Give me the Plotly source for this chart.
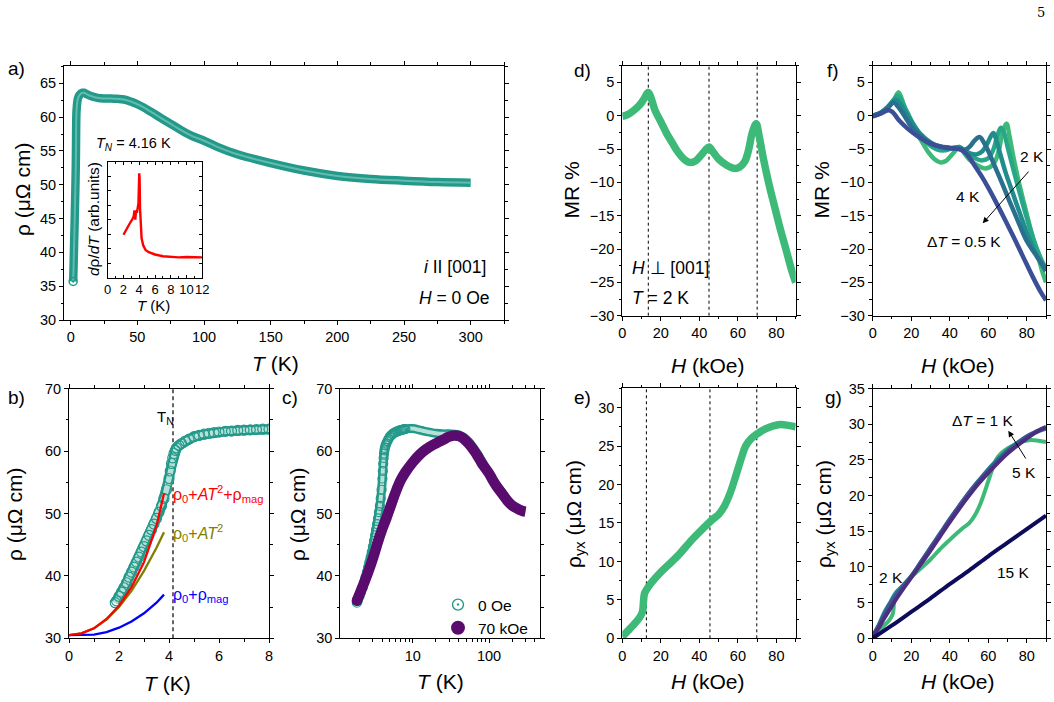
import numpy as np
import plotly.graph_objects as go

# ---------------- data ----------------
# rho(T) at H = 0 (panels a, b, c)
T0 = [1.85, 1.9, 2.0, 2.1, 2.2, 2.3, 2.4, 2.5, 2.6, 2.7, 2.8, 2.9, 3.0, 3.1, 3.2, 3.3, 3.4, 3.5,
      3.6, 3.7, 3.8, 3.9, 4.0, 4.05, 4.1, 4.15, 4.2, 4.25, 4.3, 4.4, 4.5, 4.65, 4.8, 5.0, 5.2,
      5.4, 5.6, 5.8, 6.0, 6.25, 6.5, 6.75, 7.0, 7.25, 7.5, 7.75, 8.0, 9, 10, 12, 14, 17, 20, 25,
      30, 35, 40, 45, 50, 55, 60, 65, 70, 75, 80, 90, 100, 110, 125, 150, 175, 200, 225, 250,
      275, 300]
rho0 = [35.7, 36.0, 36.7, 37.4, 38.1, 38.9, 39.8, 40.6, 41.4, 42.2, 43.0, 43.8, 44.7, 45.6, 46.5,
        47.4, 48.3, 49.2, 50.2, 51.2, 52.4, 53.8, 55.6, 56.8, 58.0, 58.9, 59.6, 60.1, 60.5, 60.9,
        61.2, 61.6, 61.9, 62.3, 62.5, 62.7, 62.85, 62.95, 63.05, 63.15, 63.2, 63.3, 63.35, 63.4,
        63.45, 63.5, 63.5, 63.6, 63.6, 63.4, 63.2, 63.0, 62.85, 62.75, 62.75, 62.7, 62.6, 62.3,
        61.9, 61.4, 60.8, 60.2, 59.6, 59.0, 58.4, 57.3, 56.5, 55.6, 54.5, 53.2, 52.1, 51.3, 50.85,
        50.6, 50.4, 50.3]
# rho(T) at H = 70 kOe (panel c)
T70 = [1.85, 2.2, 2.6, 3.0, 3.5, 4.0, 4.5, 5.0, 6.0, 7.0, 8.0, 10, 12.5, 15, 20, 25, 30, 35, 40,
       45, 50, 55, 60, 65, 70, 75, 80, 90, 100, 110, 125, 150, 175, 200, 225, 250, 275, 300]
rho70 = [36.0, 38.3, 40.6, 42.8, 45.5, 47.6, 49.2, 50.8, 53.5, 55.4, 56.6, 58.2, 59.5, 60.3, 61.2,
         61.8, 62.3, 62.5, 62.4, 62.1, 61.6, 61.1, 60.5, 59.9, 59.3, 58.7, 58.1, 57.2, 56.4, 55.5,
         54.4, 53.1, 52.0, 51.3, 50.9, 50.6, 50.4, 50.3]
# inset: d rho / dT (arb. units)
T_inset = [2.0, 2.3, 2.6, 2.9, 3.1, 3.3, 3.4, 3.5, 3.6, 3.7, 3.8, 3.9, 4.0, 4.05, 4.1, 4.2, 4.3,
           4.5, 4.8, 5.2, 6, 7, 8, 9, 10, 11, 12]
drho_inset = [0.37, 0.41, 0.45, 0.48, 0.50, 0.53, 0.58, 0.50, 0.58, 0.56, 0.60, 0.64, 0.90, 0.85,
              0.60, 0.42, 0.34, 0.28, 0.24, 0.22, 0.20, 0.185, 0.18, 0.175, 0.178, 0.175, 0.175]
# panel b: fits
T_fit = [0, 0.5, 1, 1.5, 2, 2.5, 3, 3.5, 3.8]
fit_full = [30.5, 30.8, 31.6, 33.1, 35.2, 38.2, 42.2, 48.0, 53.2]
fit_AT2 = [30.5, 30.8, 31.6, 33.0, 35.0, 37.6, 40.8, 44.5, 47.0]
fit_mag = [30.5, 30.5, 30.6, 31.0, 31.7, 32.7, 34.0, 35.7, 37.0]
TN = 4.16
# panel d: MR at 2 K
H_d = [0, 3, 6, 9, 11, 13.5, 15, 17, 20, 23, 26, 29, 32, 35, 38, 41, 43, 45, 47, 50, 54, 58, 61,
       63.5, 65.5, 67.5, 69.5, 71, 73, 76, 79, 82, 85, 88, 90]
MR_d = [-0.1, 0.2, 0.8, 1.6, 2.4, 3.5, 2.6, 0.8, -0.9, -2.65, -4.1, -5.5, -6.5, -7.0, -6.8, -5.9,
        -5.2, -4.7, -5.4, -6.5, -7.4, -7.9, -7.7, -6.9, -5.2, -2.5, -1.2, -3.0, -6.1, -10.1, -13.6,
        -17.0, -20.1, -23.3, -25.0]
MR_lines = [13.5, 45, 70]
# panel e: Hall resistivity at 2 K
H_e = [0, 3, 6, 9, 10.5, 11, 11.5, 12.5, 15, 20, 25, 30, 35, 40, 44, 47, 50, 53, 56, 59, 62, 64,
       67, 70, 74, 78, 82, 86, 90]
rho_e = [0.2, 1.0, 1.8, 2.7, 3.5, 4.8, 5.8, 6.3, 7.2, 8.6, 9.8, 11.05, 12.5, 13.8, 14.8, 15.5,
         16.1, 17.2, 18.9, 21.2, 23.6, 25.0, 26.0, 26.6, 27.2, 27.6, 27.8, 27.7, 27.5]
Hall_lines = [12.5, 45.5, 69.8]
# panel f: MR at 2.5, 3, 3.5, 4 K
H_f25 = [0, 4, 8, 11, 13, 15, 18, 21, 25, 29, 33, 37, 41, 45, 48, 51, 54, 57, 60, 62.5, 64.5,
         66.5, 68, 70, 73, 76, 80, 84, 87, 90]
MR_f25 = [0, 0.4, 1.4, 2.4, 3.0, 2.2, 0.5, -1.2, -3.0, -4.3, -5.0, -5.2, -4.9, -4.7, -5.3, -6.0,
          -6.5, -6.7, -6.4, -5.2, -3.3, -1.8, -2.4, -4.6, -8.0, -11.2, -15.3, -19.0, -21.2, -23.0]
H_f3 = [0, 4, 8, 12, 14, 17, 20, 25, 30, 35, 40, 45, 48, 51, 54, 57, 59.5, 61.5, 62.7, 64, 66,
        69, 72, 76, 80, 84, 87, 90]
MR_f3 = [0, 0.4, 1.3, 2.4, 1.9, 0.5, -0.9, -2.8, -4.0, -4.7, -4.9, -4.8, -5.3, -5.7, -5.8, -5.3,
         -4.2, -3.0, -2.6, -3.5, -5.5, -8.5, -11.0, -14.3, -17.5, -20.3, -21.8, -22.8]
H_f35 = [0, 4, 8, 11, 13, 16, 20, 25, 30, 35, 40, 45, 48, 50.5, 53, 55.5, 57.5, 60, 63, 67, 71,
         75, 80, 85, 90]
MR_f35 = [0, 0.4, 1.2, 2.0, 1.4, 0.2, -1.6, -3.1, -4.1, -4.6, -4.8, -5.0, -5.1, -4.6, -3.7, -3.2,
          -3.9, -5.3, -7.3, -10.0, -12.8, -15.5, -18.8, -21.0, -23.3]
H_f4 = [0, 4, 8, 10, 14, 18, 21, 25, 28, 32, 35, 38, 42, 45, 47, 50, 53, 57, 60, 63, 68, 73, 78,
        83, 87, 90]
MR_f4 = [-0.1, 0.3, 0.8, 0.6, -0.8, -1.9, -2.6, -3.4, -3.9, -4.4, -4.6, -4.8, -4.9, -5.0, -5.3,
         -6.2, -7.5, -9.3, -10.8, -12.4, -15.2, -18.1, -21.1, -24.1, -26.3, -27.7]
# panel g: Hall resistivity at 3, 4, 5, 15 K
H_g = [0, 3, 6, 9, 12, 15, 20, 25, 30, 35, 40, 45, 50, 55, 60, 65, 70, 75, 80, 85, 90]
rho_g3 = [0.3, 1.8, 3.6, 5.0, 6.4, 7.2, 8.7, 10.6, 12.6, 14.6, 16.6, 18.5, 20.4, 22.1, 23.7, 25.1,
          26.4, 27.4, 28.3, 28.9, 29.4]
rho_g4 = [0.3, 1.7, 3.3, 4.8, 6.0, 7.0, 8.7, 10.7, 12.7, 14.7, 16.7, 18.6, 20.4, 22.0, 23.5, 24.9,
          26.2, 27.3, 28.3, 29.0, 29.6]
rho_g5 = [0.2, 1.4, 2.8, 4.1, 5.4, 6.6, 8.5, 10.4, 12.3, 14.3, 16.3, 18.2, 20.0, 21.7, 23.2, 24.6,
          25.9, 27.0, 28.0, 28.9, 29.6]
H_g15 = [0, 10, 20, 30, 40, 50, 60, 70, 80, 90]
rho_g15 = [0, 1.8, 3.7, 5.6, 7.6, 9.5, 11.5, 13.4, 15.3, 17.2]

# ---------------- styling ----------------
W, H = 1054, 702
FONT = "Liberation Sans, Arial, Helvetica, sans-serif"
TEAL = "#23998a"
TEAL_LIGHT = "#62bcae"
TEAL_PALE = "#b7e0d8"
PURPLE = "#5a0c6e"
GREEN = "#3dba78"
C25, C3, C35, C4 = "#28a688", "#1f8d8c", "#2a6f8e", "#3b4f96"
G3, G4, G5, G15 = "#22898e", "#3a5796", "#4c2d80", "#0d0b5c"


def px(x):
    return x / W


def py(y):
    return 1 - y / H


boxes = {  # left, right, top, bottom in pixels
    1: (64, 504, 65.7, 320),          # a
    2: (107.7, 202.3, 161.7, 277.7),  # inset
    3: (69, 269, 388.6, 638.3),       # b
    4: (340.3, 540, 388.6, 638.3),    # c
    5: (622.3, 795.7, 65.7, 315.7),   # d
    6: (622.3, 795.7, 388, 638.3),    # e
    7: (872.7, 1046, 65.7, 315.7),    # f
    8: (872.7, 1046, 388.6, 638.3),   # g
}

fig = go.Figure()


def xa(i):
    return "x" if i == 1 else f"x{i}"


def ya(i):
    return "y" if i == 1 else f"y{i}"


def line(x, y, i, color, width, shape="linear"):
    fig.add_trace(go.Scatter(x=x, y=y, xaxis=xa(i), yaxis=ya(i), mode="lines",
                             line=dict(color=color, width=width, shape=shape),
                             showlegend=False, hoverinfo="skip"))


def tube(x, y, i, w=8, wi=2.0, shape="linear", inner=TEAL_LIGHT):
    line(x, y, i, TEAL, w, shape)
    line(x, y, i, inner, wi, shape)


def rings(x, y, i, size):
    fig.add_trace(go.Scatter(x=x, y=y, xaxis=xa(i), yaxis=ya(i), mode="markers",
                             marker=dict(symbol="circle-open", size=size, color=TEAL,
                                         line=dict(width=1.2, color=TEAL)),
                             showlegend=False, hoverinfo="skip"))


T0a = np.array(T0)
rho0a = np.array(rho0)

# panel a
tube(T0, rho0, 1, 8.5, 2.0, "spline")
fig.add_trace(go.Scatter(x=T0[:1], y=rho0[:1], xaxis="x", yaxis="y", mode="markers",
                         marker=dict(symbol="circle-open-dot", size=8, color=TEAL,
                                     line=dict(width=1.5, color=TEAL)),
                         showlegend=False, hoverinfo="skip"))
# inset
line(T_inset, drho_inset, 2, "#ff0000", 2.4)

# panel b
mb = T0a <= 8.5
tube(T0a[mb], rho0a[mb], 3, 10, 5.5, "linear", TEAL_PALE)
rings(T0a[mb], rho0a[mb], 3, 10)
line(T_fit, fit_AT2, 3, "#808000", 2.3)
line(T_fit, fit_mag, 3, "#0000ff", 2.3)
line(T_fit, fit_full, 3, "#ff0000", 2.3)

# panel c
tube(T0, rho0, 4, 9, 4, "spline", TEAL_PALE)
mc = T0a <= 8
rings(T0a[mc], rho0a[mc], 4, 9)
line(T70, rho70, 4, PURPLE, 10.5, "spline")
fig.add_trace(go.Scatter(x=T70[:1], y=rho70[:1], xaxis="x4", yaxis="y4", mode="markers",
                         marker=dict(symbol="circle", size=10.5, color=PURPLE),
                         showlegend=False, hoverinfo="skip"))
# legend entries for panel c
fig.add_trace(go.Scatter(x=[None], y=[None], xaxis="x4", yaxis="y4", mode="markers",
                         name="0 Oe",
                         marker=dict(symbol="circle-open-dot", size=11, color=TEAL,
                                     line=dict(width=1.4, color=TEAL))))
fig.add_trace(go.Scatter(x=[None], y=[None], xaxis="x4", yaxis="y4", mode="markers",
                         name="70 kOe", marker=dict(symbol="circle", size=14, color=PURPLE)))

# panel d
line(H_d, MR_d, 5, GREEN, 7.5, "spline")
# panel e
line(H_e, rho_e, 6, GREEN, 7.5, "spline")
# panel f
for h, m, c in [(H_d, MR_d, GREEN), (H_f25, MR_f25, C25), (H_f3, MR_f3, C3),
                (H_f35, MR_f35, C35), (H_f4, MR_f4, C4)]:
    line(h, m, 7, c, 4.5, "spline")
# panel g
for h, r, c in [(H_e, rho_e, GREEN), (H_g, rho_g3, G3), (H_g, rho_g4, G4),
                (H_g, rho_g5, G5), (H_g15, rho_g15, G15)]:
    line(h, r, 8, c, 4, "spline")

# ---------------- axes ----------------
TICKFONT = dict(size=14.5, family=FONT, color="black")


def axis(i, which, rng, dtick=None, minor_dtick=None, **kw):
    l, r, t, b = boxes[i]
    d = dict(showline=True, linecolor="black", linewidth=1, mirror="allticks",
             ticks="outside", ticklen=4, tickwidth=1, tickcolor="black", automargin=False,
             showgrid=False, zeroline=False, tickfont=TICKFONT, range=rng, tickangle=0)
    if dtick is not None:
        d["dtick"] = dtick
        d["tick0"] = 0
    if minor_dtick is not None:
        d["minor"] = dict(ticks="outside", ticklen=2.5, tickcolor="black", dtick=minor_dtick,
                          tick0=0, showgrid=False)
    if which == "x":
        d["domain"] = [px(l), px(r)]
        d["anchor"] = ya(i)
    else:
        d["domain"] = [py(b), py(t)]
        d["anchor"] = xa(i)
    d.update(kw)
    return d


lay = {}
lay["xaxis"] = axis(1, "x", [-5, 325], 50, 25)
lay["yaxis"] = axis(1, "y", [30, 67.6], 5, 2.5)
lay["xaxis2"] = axis(2, "x", [0, 12], 2, 1, ticks="inside", ticklen=3,
                     tickfont=dict(size=13, family=FONT, color="black"),
                     minor=dict(ticks="inside", ticklen=2, dtick=1, tick0=0, tickcolor="black"))
lay["yaxis2"] = axis(2, "y", [0, 1], 0.125, None, ticks="inside", ticklen=3,
                     showticklabels=False)
lay["xaxis3"] = axis(3, "x", [0, 8], 2, 1)
lay["yaxis3"] = axis(3, "y", [30, 70], 10, 5)
lay["xaxis4"] = axis(4, "x", [0.05, 2.668], None, None, type="log", tickvals=[10, 100],
                     ticktext=["10", "100"],
                     minor=dict(ticks="outside", ticklen=2.5, tickcolor="black",
                                tickvals=[2, 3, 4, 5, 6, 7, 8, 9, 20, 30, 40, 50, 60, 70, 80, 90,
                                          200, 300, 400]))
lay["yaxis4"] = axis(4, "y", [30, 70], 10, 5)
lay["xaxis5"] = axis(5, "x", [0, 90], 20, 10)
lay["yaxis5"] = axis(5, "y", [-30, 7.5], 5, 2.5)
lay["xaxis6"] = axis(6, "x", [0, 90], 20, 10)
lay["yaxis6"] = axis(6, "y", [0, 32.56], 5, 2.5)
lay["xaxis7"] = axis(7, "x", [0, 90], 20, 10)
lay["yaxis7"] = axis(7, "y", [-30, 7.5], 5, 2.5)
lay["xaxis8"] = axis(8, "x", [0, 90], 20, 10)
lay["yaxis8"] = axis(8, "y", [0, 35], 5, 2.5)

# ---------------- shapes ----------------
shapes = [dict(type="line", xref="x3", yref="y3 domain", x0=TN, x1=TN, y0=0, y1=1,
               line=dict(color="black", width=1.2, dash="4px,3px"), layer="below")]
for h in MR_lines:
    shapes.append(dict(type="line", xref="x5", yref="y5 domain", x0=h, x1=h, y0=0, y1=1,
                       line=dict(color="black", width=1, dash="dot"), layer="below"))
for h in Hall_lines:
    shapes.append(dict(type="line", xref="x6", yref="y6 domain", x0=h, x1=h, y0=0, y1=1,
                       line=dict(color="black", width=1, dash="dot"), layer="below"))

# ---------------- annotations ----------------
ann = []


def text(x, y, s, size=15, color="black", xanchor="center", angle=0, family=FONT):
    ann.append(dict(x=px(x), y=py(y), xref="paper", yref="paper", text=s, showarrow=False,
                    xanchor=xanchor, yanchor="middle", textangle=angle, borderpad=0,
                    font=dict(size=size, color=color, family=family)))


def arrow(x_head, y_head, x_tail, y_tail):
    ann.append(dict(x=px(x_head), y=py(y_head), xref="paper", yref="paper", text="",
                    showarrow=True, ax=x_tail - x_head, ay=y_tail - y_head,
                    arrowhead=2, arrowsize=1.2, arrowwidth=1, arrowcolor="black"))


TITLE = 21
# axis titles
text(275.7, 363, "<i>T</i> (K)", TITLE)
text(22, 190, "ρ (μΩ cm)", TITLE, angle=-90)
text(167, 683, "<i>T</i> (K)", TITLE)
text(14, 515, "ρ (μΩ cm)", TITLE, angle=-90)
text(440, 681, "<i>T</i> (K)", TITLE)
text(297, 515, "ρ (μΩ cm)", TITLE, angle=-90)
text(708.3, 365, "<i>H</i> (kOe)", TITLE)
text(570.5, 190, "MR %", TITLE, angle=-90)
text(708.3, 681, "<i>H</i> (kOe)", TITLE)
text(575, 514, "ρ<sub>yx</sub> (μΩ cm)", TITLE, angle=-90)
text(958.3, 365, "<i>H</i> (kOe)", TITLE)
text(820.5, 190, "MR %", TITLE, angle=-90)
text(958.3, 681, "<i>H</i> (kOe)", TITLE)
text(825, 514, "ρ<sub>yx</sub> (μΩ cm)", TITLE, angle=-90)
# inset titles
text(153.3, 305, "<i>T</i> (K)", 15)
text(93, 219, "<i>d</i>ρ/<i>dT</i> (arb.units)", 15.5, angle=-90)
# panel labels
for lab, x, y in [("a)", 16, 69), ("b)", 16, 397), ("c)", 290, 397), ("d)", 582, 70),
                  ("e)", 582, 397), ("f)", 833, 70), ("g)", 833, 398)]:
    text(x, y, lab, 19)
# page number
text(1041, 13, "5", 13, family="DejaVu Serif, Liberation Serif, serif")
# panel a texts
text(133.5, 144, "<i>T<sub>N</sub></i> = 4.16 K", 14.5)
text(487, 267, "<i>i</i> II [001]", 17.5, xanchor="right")
text(491, 298, "<i>H</i> = 0 Oe", 17.5, xanchor="right")
# panel b texts
text(165, 417, "T<sub>N</sub>", 15)
text(172, 494, "ρ<sub>0</sub>+<i>AT</i><sup>2</sup>+ρ<sub>mag</sub>", 16, "#ff0000", "left")
text(172, 533, "ρ<sub>0</sub>+<i>AT</i><sup>2</sup>", 16, "#808000", "left")
text(172, 595, "ρ<sub>0</sub>+ρ<sub>mag</sub>", 16, "#0000ff", "left")
# panel d texts
text(631, 268, "<i>H</i> ⊥ [001]", 17.5, xanchor="left")
text(631, 298, "<i>T</i> = 2 K", 17.5, xanchor="left")
# panel f texts
text(1032, 156, "2 K", 15.5)
text(967.5, 197, "4 K", 15.5)
text(964, 242, "Δ<i>T</i> = 0.5 K", 15.5)
arrow(982.7, 223.3, 1030, 170)
# panel g texts
text(982, 420, "Δ<i>T</i> = 1 K", 15.5)
text(1024, 472, "5 K", 15.5)
text(891, 577, "2 K", 15.5)
text(1013, 572, "15 K", 15.5)
arrow(1008.3, 430.7, 1026.7, 460)

fig.update_layout(
    width=W, height=H, margin=dict(l=0, r=0, t=0, b=0, autoexpand=False),
    paper_bgcolor="white", plot_bgcolor="white",
    font=dict(family=FONT, color="black"),
    shapes=shapes, annotations=ann,
    legend=dict(x=px(438), y=py(588), xanchor="left", yanchor="top",
                bgcolor="rgba(0,0,0,0)", font=dict(size=15.5, family=FONT),
                tracegroupgap=0, itemwidth=30),
    **lay,
)

fig.write_html("out.html")
